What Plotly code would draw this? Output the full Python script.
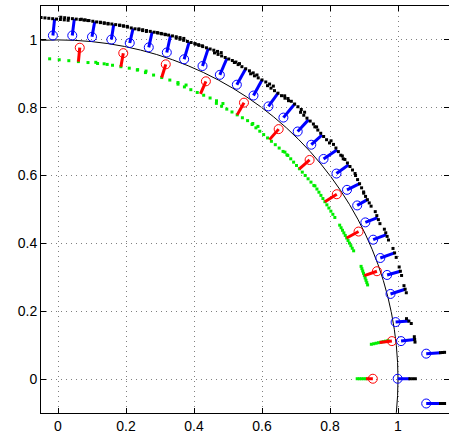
import numpy as np
import plotly.graph_objects as go

# ---- data ----
blue_x = [-0.015, 0.042, 0.100, 0.157, 0.211, 0.267, 0.320, 0.371, 0.425, 0.476,
          0.526, 0.575, 0.619, 0.663, 0.705, 0.745, 0.781, 0.819, 0.850, 0.880,
          0.904, 0.927, 0.948, 0.968, 0.978, 0.993, 1.009, 0.999, 1.083, 1.083]
blue_y = [1.013, 1.013, 1.009, 1.001, 0.991, 0.978, 0.963, 0.943, 0.923, 0.897,
          0.868, 0.836, 0.804, 0.771, 0.730, 0.691, 0.649, 0.606, 0.558, 0.512,
          0.462, 0.411, 0.357, 0.307, 0.251, 0.168, 0.112, 0.001, 0.075, -0.072]
tip_x = [-0.010, 0.048, 0.108, 0.164, 0.221, 0.277, 0.331, 0.386, 0.442, 0.497,
         0.552, 0.600, 0.647, 0.696, 0.737, 0.777, 0.821, 0.855, 0.887, 0.910,
         0.940, 0.966, 0.990, 1.007, 1.021, 1.032, 1.049, 1.035, 1.125, 1.125]
tip_y = [1.062, 1.062, 1.054, 1.046, 1.034, 1.024, 1.013, 0.994, 0.975, 0.946,
         0.915, 0.882, 0.843, 0.811, 0.765, 0.720, 0.676, 0.632, 0.576, 0.529,
         0.476, 0.426, 0.372, 0.318, 0.265, 0.171, 0.117, 0.001, 0.078, -0.072]
black_half = [0.040] * 10 + [0.038] * 4 + [0.032] * 4 + [0.027, 0.022, 0.019, 0.017,
              0.014, 0.013, 0.011, 0.010, 0.008, 0.008, 0.006, 0.006]
black_rel = [90] * 25 + [130, 90, 0, 0, 0]
black_off = [0.0] * 27 + [0.008, 0.006, 0.006]

red_x = [0.064, 0.192, 0.317, 0.435, 0.547, 0.649, 0.740, 0.820, 0.884, 0.938, 0.982, 0.926]
red_y = [0.977, 0.961, 0.928, 0.878, 0.815, 0.737, 0.646, 0.545, 0.435, 0.318, 0.112, 0.001]
end_x = [0.060, 0.185, 0.305, 0.419, 0.527, 0.622, 0.710, 0.785, 0.849, 0.901, 0.946, 0.906]
end_y = [0.936, 0.921, 0.889, 0.841, 0.779, 0.706, 0.620, 0.523, 0.416, 0.305, 0.108, 0.001]
green_half = [0.085, 0.075, 0.075, 0.072, 0.070, 0.068, 0.065, 0.055, 0.043, 0.029, 0.025, 0.013]
green_rel = [90] * 10 + [6, 0]
green_off = [0.0] * 11 + [0.013]
green_n = [7, 7, 7, 8, 9, 10, 11, 11, 11, 9, 8, 5]

x_ticks = [0, 0.2, 0.4, 0.6, 0.8, 1]
x_labels = ["0", "0.2", "0.4", "0.6", "0.8", "1"]
y_ticks = [0, 0.2, 0.4, 0.6, 0.8, 1]
y_labels = ["0", "0.2", "0.4", "0.6", "0.8", "1"]


def segment(sx, sy, ex, ey, half, rel, off, n):
    d = np.array([ex - sx, ey - sy], dtype=float)
    d /= np.hypot(*d)
    c = np.array([ex, ey]) + d * off
    a = np.arctan2(d[1], d[0]) + np.radians(rel)
    t = np.linspace(-half, half, n)
    return list(c[0] + t * np.cos(a)), list(c[1] + t * np.sin(a))


def lines(x0, y0, x1, y1):
    xs, ys = [], []
    for a, b, c, d in zip(x0, y0, x1, y1):
        xs += [a, c, None]
        ys += [b, d, None]
    return xs, ys


gx, gy = [], []
for i in range(len(red_x)):
    sx, sy = segment(red_x[i], red_y[i], end_x[i], end_y[i],
                     green_half[i], green_rel[i], green_off[i], green_n[i])
    gx += sx
    gy += sy

kx, ky = [], []
for i in range(len(blue_x)):
    n = max(3, int(round(2 * black_half[i] / 0.012)) + 1)
    sx, sy = segment(blue_x[i], blue_y[i], tip_x[i], tip_y[i],
                     black_half[i], black_rel[i], black_off[i], n)
    kx += sx
    ky += sy

rlx, rly = lines(red_x, red_y, end_x, end_y)
blx, bly = lines(blue_x, blue_y, tip_x, tip_y)

fig = go.Figure()
fig.add_shape(type="circle", xref="x", yref="y", x0=-1, y0=-1, x1=1, y1=1,
              line=dict(color="black", width=1), layer="below")

fig.add_trace(go.Scatter(x=gx, y=gy, mode="markers",
                         marker=dict(symbol="square", size=3, color="#00ee00", line=dict(width=0))))
fig.add_trace(go.Scatter(x=rlx, y=rly, mode="lines", line=dict(color="#ff0000", width=3)))
fig.add_trace(go.Scatter(x=red_x, y=red_y, mode="markers",
                         marker=dict(symbol="circle-open", size=9, color="#ff0000", line=dict(width=1))))
fig.add_trace(go.Scatter(x=blx, y=bly, mode="lines", line=dict(color="#0000ff", width=3)))
fig.add_trace(go.Scatter(x=kx, y=ky, mode="markers",
                         marker=dict(symbol="square", size=3, color="black", line=dict(width=0))))
fig.add_trace(go.Scatter(x=blue_x, y=blue_y, mode="markers",
                         marker=dict(symbol="circle-open", size=9, color="#0000ff", line=dict(width=1))))

axis_common = dict(showline=True, linecolor="black", linewidth=1, mirror="ticks",
                   ticks="inside", ticklen=5, tickcolor="black", showgrid=True,
                   gridcolor="#808080", griddash="1px,4px", gridwidth=1, zeroline=False)
fig.update_xaxes(range=[-0.05, 1.15], tickvals=x_ticks, ticktext=x_labels, **axis_common)
fig.update_yaxes(range=[-0.1, 1.1], tickvals=y_ticks, ticktext=y_labels, **axis_common)
fig.update_layout(width=449, height=434, margin=dict(l=41, r=0, t=6, b=21),
                  paper_bgcolor="white", plot_bgcolor="white", showlegend=False,
                  hovermode=False,
                  font=dict(family="Liberation Sans, Arial, sans-serif", size=14, color="black"))
fig.write_html("out.html", config={"displayModeBar": False, "staticPlot": True},
               post_script="document.body.style.margin='0';document.body.style.padding='0';"
                           "document.documentElement.style.overflow='hidden';")
